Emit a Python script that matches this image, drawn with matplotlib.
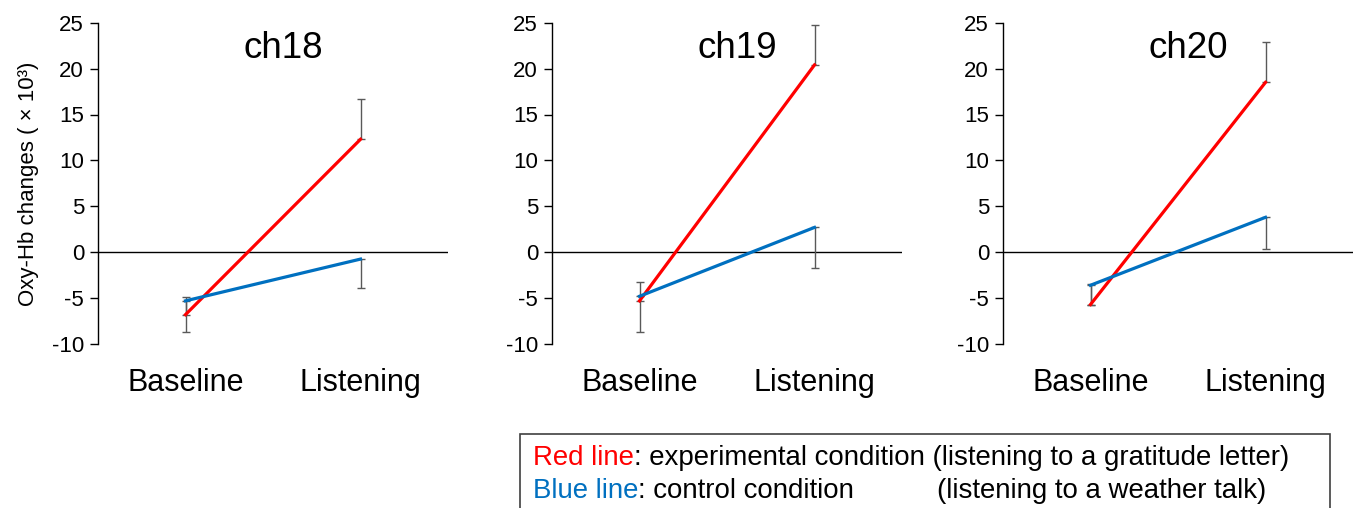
import matplotlib
matplotlib.use("Agg")
import matplotlib.pyplot as plt
from matplotlib.patches import Rectangle

plt.rcParams['font.family'] = ['Liberation Sans', 'DejaVu Sans']
plt.rcParams['axes.unicode_minus'] = False

# values (x 10^3)
conditions = ['Baseline', 'Listening']
channels = ['ch18', 'ch19', 'ch20']
red_mean = [[-6.8, 12.3], [-5.3, 20.4], [-5.7, 18.5]]
red_err_up = [[1.9, 4.4], [2.1, 4.3], [2.2, 4.35]]
blue_mean = [[-5.3, -0.75], [-4.8, 2.7], [-3.6, 3.8]]
blue_err_down = [[3.4, 3.2], [3.9, 4.4], [2.2, 3.45]]

RED = '#ff0000'
BLUE = '#0070c0'
GREY = '#595959'

W, H = 1359, 508
fig = plt.figure(figsize=(W / 100, H / 100), dpi=100)

lefts = [98, 552, 1003]
ax_w = 350
ax_top, ax_bot = 22.7, 344

for i, ch in enumerate(channels):
    ax = fig.add_axes([lefts[i] / W, 1 - ax_bot / H, ax_w / W, (ax_bot - ax_top) / H])
    x = range(len(conditions))
    ax.axhline(0, color='black', lw=1, zorder=1)
    ax.errorbar(x, red_mean[i], yerr=[[0, 0], red_err_up[i]], fmt='none',
                ecolor=GREY, elinewidth=1, capsize=3, capthick=1, zorder=2)
    ax.errorbar(x, blue_mean[i], yerr=[blue_err_down[i], [0, 0]], fmt='none',
                ecolor=GREY, elinewidth=1, capsize=3, capthick=1, zorder=2)
    ax.plot(x, red_mean[i], color=RED, lw=2.3, zorder=3)
    ax.plot(x, blue_mean[i], color=BLUE, lw=2.3, zorder=3)

    ax.set_xlim(-0.5, 1.5)
    ax.set_ylim(-10, 25)
    ax.set_yticks(range(-10, 26, 5))
    ax.tick_params(axis='y', labelsize=16, length=6, width=1, color='black', pad=4)
    ax.set_xticks(list(x))
    ax.set_xticklabels(conditions, fontsize=22)
    ax.tick_params(axis='x', length=0, pad=17)
    for s in ['top', 'right', 'bottom']:
        ax.spines[s].set_visible(False)
    ax.spines['left'].set_linewidth(1)
    ax.text(0.53, 0.921, ch, transform=ax.transAxes, ha='center', va='center', fontsize=26.5)
    if i == 0:
        ax.set_ylabel('Oxy-Hb changes ( × 10³)', fontsize=16, labelpad=9)

# legend box (runs off the bottom edge)
fig.patches.append(Rectangle((520 / W, -0.1), (1330 - 520) / W, 0.1 + 1 - 434 / H,
                             transform=fig.transFigure, fill=False, ec='#404040', lw=1.2))
fs = 19.9
y1 = 1 - 465 / H
y2 = 1 - 498 / H
t1 = fig.text(533 / W, y1, 'Red line', color=RED, fontsize=fs, va='baseline')
fig.add_artist(plt.Annotation(': experimental condition (listening to a gratitude letter)',
                              xy=(1, 0), xycoords=t1, va='bottom', ha='left', fontsize=fs))
t2 = fig.text(533 / W, y2, 'Blue line', color=BLUE, fontsize=fs, va='baseline')
fig.add_artist(plt.Annotation(': control condition', xy=(1, 0), xycoords=t2,
                              va='bottom', ha='left', fontsize=fs))
fig.text(937 / W, y2, '(listening to a weather talk)', fontsize=fs, va='baseline')

fig.savefig('out.png', dpi=100)
